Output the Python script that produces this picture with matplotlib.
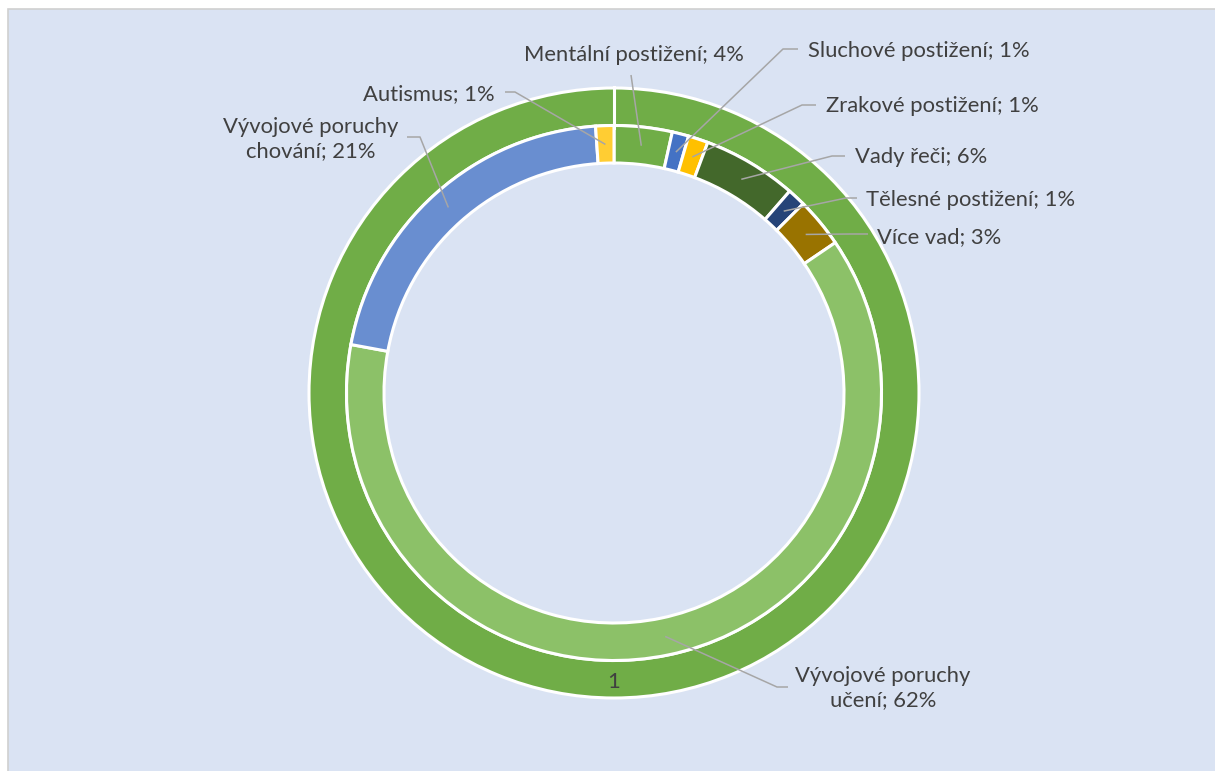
import numpy as np
import matplotlib.pyplot as plt
from matplotlib.patches import Rectangle

# inner ring: share of pupils by type of disability (clockwise from the top)
categories = ['Mentální postižení', 'Sluchové postižení', 'Zrakové postižení', 'Vady řeči',
              'Tělesné postižení', 'Více vad', 'Vývojové poruchy\nučení',
              'Vývojové poruchy\nchování', 'Autismus']
shares = [3.5, 1.0, 1.2, 5.7, 1.1, 3.0, 62.4, 21.0, 1.1]
colors = ['#70AD47', '#4472C4', '#FFC000', '#43682B', '#264478', '#997300',
          '#8CC168', '#698ED0', '#FFCD33']

# outer ring: the whole, one value
outer_values = [1]
outer_labels = ['1']
outer_color = '#70AD47'

W, H = 1215, 771
cx, cy = 614, H - 393
R = 305
ring_w = 37.5
text_col = '#404040'
line_col = '#A6A6A6'
font = ['Lato', 'DejaVu Sans']
fs = 15.8

# label layout in pixels (y from top): text x, text y, alignment, leader points before the slice
label_layout = [
    (634, 55, 'center', [(631, 75)]),
    (808, 51, 'left', [(798, 49), (783, 49)]),
    (826, 106, 'left', [(816, 105), (802, 105)]),
    (855, 157, 'left', [(845, 156), (832, 156)]),
    (866, 200, 'left', [(857, 198), (846, 198)]),
    (877, 237, 'left', [(868, 234), (850, 234)]),
    (883, 688, 'center', [(788, 687), (777, 687)]),
    (311, 139, 'center', [(407, 137), (420, 137)]),
    (495, 94, 'right', [(505, 92), (515, 92)]),
]

fig = plt.figure(figsize=(W / 100, H / 100), dpi=100)
fig.patch.set_facecolor('white')
ax = fig.add_axes([0, 0, 1, 1])

ax.add_patch(Rectangle((8, -5), W, H - 9 + 5, facecolor='#DAE3F3', edgecolor='#D0D0D0',
                       linewidth=1.2, zorder=0))

ax.pie(outer_values, radius=R, center=(cx, cy), colors=[outer_color], startangle=90,
       counterclock=False, wedgeprops=dict(width=ring_w, edgecolor='white', linewidth=2.2))
ax.plot([cx, cx], [cy + R - ring_w - 2, cy + R + 1], color='white', lw=2.2, zorder=3)

ax.pie(shares, radius=R - ring_w, center=(cx, cy), colors=colors, startangle=90,
       counterclock=False, wedgeprops=dict(width=ring_w, edgecolor='white', linewidth=2.2))

ax.text(cx, H - 682, outer_labels[0], ha='center', va='center', color=text_col,
        fontsize=fs, family=font, zorder=5)

total = sum(shares)
cum = 0
r_mid = R - ring_w * 1.5
for name, v, (tx, ty, ha, pts) in zip(categories, shares, label_layout):
    ang = np.deg2rad((cum + v / 2) / total * 360)
    cum += v
    ex = cx + r_mid * np.sin(ang)
    ey = cy + r_mid * np.cos(ang)
    xs = [p[0] for p in pts] + [ex]
    ys = [H - p[1] for p in pts] + [ey]
    ax.plot(xs, ys, color=line_col, lw=1.1, zorder=4, solid_capstyle='butt')
    pct = int(v + 0.5)
    ax.text(tx, H - ty, f'{name}; {pct}%', ha=ha, va='center', multialignment='center',
            color=text_col, fontsize=fs, family=font, linespacing=1.25, zorder=5)

ax.set_xlim(0, W)
ax.set_ylim(0, H)
ax.axis('off')

fig.savefig('out.png', dpi=100, facecolor=fig.get_facecolor())
